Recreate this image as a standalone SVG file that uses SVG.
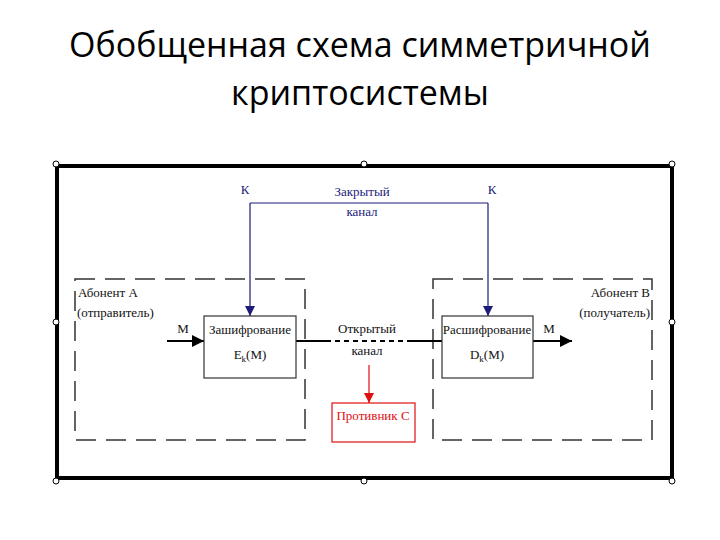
<svg xmlns="http://www.w3.org/2000/svg" width="720" height="540" viewBox="0 0 720 540">
<defs>
<marker id="ab" viewBox="0 0 10 10" refX="10" refY="5" markerWidth="10" markerHeight="10" markerUnits="userSpaceOnUse" orient="auto"><path d="M0,0 L10,5 L0,10 z" fill="#1c1c7a"/></marker>
<marker id="ak" viewBox="0 0 10 10" refX="10" refY="5" markerWidth="12" markerHeight="12" markerUnits="userSpaceOnUse" orient="auto"><path d="M0,0 L10,5 L0,10 z" fill="#000"/></marker>
<marker id="ar" viewBox="0 0 10 10" refX="10" refY="5" markerWidth="10" markerHeight="10" markerUnits="userSpaceOnUse" orient="auto"><path d="M0,0 L10,5 L0,10 z" fill="#e01010"/></marker>
</defs>
<style>
.title{font-family:"Open Sans","Liberation Sans",sans-serif;font-size:34px;fill:#000}
.t{font-family:"Liberation Serif","DejaVu Serif",serif;font-size:13px;fill:#111}
.tb{font-family:"Liberation Serif","DejaVu Serif",serif;font-size:13px;fill:#1c1c7a}
.tr{font-family:"Liberation Serif","DejaVu Serif",serif;font-size:13px;fill:#e01010}
.box{fill:#fff;stroke:#333;stroke-width:1.2}
.dash{fill:none;stroke:#333;stroke-width:1.5;stroke-dasharray:20 10}
.h{fill:#fff;stroke:#000;stroke-width:1}
</style>
<rect width="720" height="540" fill="#fff"/>
<text class="title" x="360" y="57" text-anchor="middle">Обобщенная схема симметричной</text>
<text class="title" x="360" y="105" text-anchor="middle">криптосистемы</text>

<g id="frame">
<rect x="57" y="166" width="615" height="312" fill="none" stroke="#000" stroke-width="4"/>
<circle class="h" cx="56" cy="164" r="3"/><circle class="h" cx="364" cy="164" r="3"/><circle class="h" cx="672" cy="164" r="3"/>
<circle class="h" cx="56" cy="322" r="3"/><circle class="h" cx="672" cy="322" r="3"/>
<circle class="h" cx="56" cy="481" r="3"/><circle class="h" cx="364" cy="481" r="3"/><circle class="h" cx="672" cy="481" r="3"/>
</g>

<g id="abonentA">
<rect class="dash" x="75" y="279" width="230" height="161"/>
<text class="t" x="78" y="297">Абонент А</text>
<text class="t" x="77" y="317">(отправитель)</text>
</g>
<g id="abonentB">
<rect class="dash" x="433" y="279" width="219" height="161"/>
<text class="t" x="650" y="297" text-anchor="end">Абонент В</text>
<text class="t" x="650" y="317" text-anchor="end">(получатель)</text>
</g>

<g id="connectors">
<polyline points="250,203 488,203" fill="none" stroke="#1c1c7a" stroke-width="1.2"/>
<line x1="250" y1="203" x2="250" y2="316" stroke="#1c1c7a" stroke-width="1.2" marker-end="url(#ab)"/>
<line x1="488" y1="203" x2="488" y2="316" stroke="#1c1c7a" stroke-width="1.2" marker-end="url(#ab)"/>
<line x1="167" y1="341" x2="204" y2="341" stroke="#000" stroke-width="2" marker-end="url(#ak)"/>
<line x1="533" y1="341" x2="572" y2="341" stroke="#000" stroke-width="2" marker-end="url(#ak)"/>
<line x1="296" y1="341" x2="326" y2="341" stroke="#000" stroke-width="2"/>
<line x1="326" y1="341" x2="410" y2="341" stroke="#000" stroke-width="2" stroke-dasharray="5 4"/>
<line x1="410" y1="341" x2="442" y2="341" stroke="#000" stroke-width="2"/>
<line x1="369" y1="365" x2="369" y2="403" stroke="#e01010" stroke-width="1.2" marker-end="url(#ar)"/>
<text class="tb" x="245" y="194" text-anchor="middle">К</text>
<text class="tb" x="492" y="194" text-anchor="middle">К</text>
<text class="tb" x="362" y="196" text-anchor="middle">Закрытый</text>
<text class="tb" x="362" y="216" text-anchor="middle">канал</text>
<text class="t" x="183" y="333" text-anchor="middle">М</text>
<text class="t" x="549" y="333" text-anchor="middle">М</text>
<text class="t" x="367" y="333" text-anchor="middle">Открытый</text>
<text class="t" x="367" y="355" text-anchor="middle">канал</text>
</g>

<g id="encrypt">
<rect class="box" x="204" y="316" width="92" height="62"/>
<text class="t" x="250" y="334" text-anchor="middle">Зашифрование</text>
<text class="t" x="250" y="359" text-anchor="middle">E<tspan font-size="9" dy="3">k</tspan><tspan dy="-3">(M)</tspan></text>
</g>
<g id="decrypt">
<rect class="box" x="442" y="316" width="91" height="62"/>
<text class="t" x="487" y="334" text-anchor="middle">Расшифрование</text>
<text class="t" x="487" y="359" text-anchor="middle">D<tspan font-size="9" dy="3">k</tspan><tspan dy="-3">(M)</tspan></text>
</g>
<g id="adversary">
<rect x="332" y="403" width="83" height="39" fill="#fff" stroke="#e01010" stroke-width="1.2"/>
<text class="tr" x="373" y="420" text-anchor="middle">Противник С</text>
</g>
</svg>
